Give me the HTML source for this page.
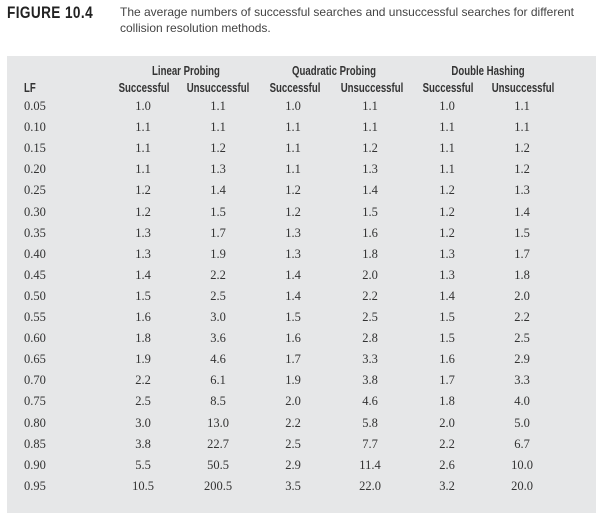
<!DOCTYPE html>
<html><head><meta charset="utf-8">
<style>
body{margin:0;width:602px;height:519px;background:#fff;position:relative;overflow:hidden;font-family:"Liberation Serif",serif;}
.a{position:absolute;white-space:nowrap;}
.fig{left:7px;top:3px;font:bold 17px "Liberation Sans",sans-serif;color:#222;letter-spacing:0.5px;transform:scaleX(0.8);transform-origin:0 0}
.cap{left:120px;font:12px "Liberation Sans",sans-serif;color:#444;}
#box{position:absolute;left:7px;top:56px;width:589px;height:457px;background:#e6e7e8;}
.h{font:bold 13px "Liberation Sans",sans-serif;color:#333;transform:translateX(-50%) scaleX(0.74);}
.lfh{font:bold 13px "Liberation Sans",sans-serif;color:#333;transform:scaleX(0.74);transform-origin:0 0}
.v{font:12.5px "Liberation Serif",serif;color:#333;transform:translateX(-50%);}
.lf{font:12.5px "Liberation Serif",serif;color:#333;}
</style></head><body>
<div class="a fig">FIGURE 10.4</div>
<div class="a cap" style="top:5px">The average numbers of successful searches and unsuccessful searches for different</div>
<div class="a cap" style="top:21px">collision resolution methods.</div>
<div id="box"></div>
<div class="a h" style="left:186px;top:63px">Linear Probing</div>
<div class="a h" style="left:334px;top:63px">Quadratic Probing</div>
<div class="a h" style="left:488px;top:63px">Double Hashing</div>
<div class="a lfh" style="left:24px;top:80px">LF</div>
<script>
const lf=["0.05","0.10","0.15","0.20","0.25","0.30","0.35","0.40","0.45","0.50","0.55","0.60","0.65","0.70","0.75","0.80","0.85","0.90","0.95"];
const linS=["1.0","1.1","1.1","1.1","1.2","1.2","1.3","1.3","1.4","1.5","1.6","1.8","1.9","2.2","2.5","3.0","3.8","5.5","10.5"];
const linU=["1.1","1.1","1.2","1.3","1.4","1.5","1.7","1.9","2.2","2.5","3.0","3.6","4.6","6.1","8.5","13.0","22.7","50.5","200.5"];
const quaS=["1.0","1.1","1.1","1.1","1.2","1.2","1.3","1.3","1.4","1.4","1.5","1.6","1.7","1.9","2.0","2.2","2.5","2.9","3.5"];
const quaU=["1.1","1.1","1.2","1.3","1.4","1.5","1.6","1.8","2.0","2.2","2.5","2.8","3.3","3.8","4.6","5.8","7.7","11.4","22.0"];
const dblS=["1.0","1.1","1.1","1.1","1.2","1.2","1.2","1.3","1.3","1.4","1.5","1.5","1.6","1.7","1.8","2.0","2.2","2.6","3.2"];
const dblU=["1.1","1.1","1.2","1.2","1.3","1.4","1.5","1.7","1.8","2.0","2.2","2.5","2.9","3.3","4.0","5.0","6.7","10.0","20.0"];
const subs=["Successful","Unsuccessful","Successful","Unsuccessful","Successful","Unsuccessful"];
const cols=[linS,linU,quaS,quaU,dblS,dblU];
const colNames=["linear-successful","linear-unsuccessful","quadratic-successful","quadratic-unsuccessful","double-successful","double-unsuccessful"];
const cx=[143,218,293,370,447,522];
const hx=[144,218,295,372,448,523];
function rowY(i){return 99+i*21.1;}
subs.forEach((s,j)=>{
  const d=document.createElement('div');
  d.className='a h';d.style.left=hx[j]+'px';d.style.top='80px';d.textContent=s;
  
  
  document.body.appendChild(d);
});
lf.forEach((v,i)=>{
  const d=document.createElement('div');
  d.className='a lf';d.style.left='24px';d.style.top=rowY(i)+'px';d.textContent=v;
  
  
  document.body.appendChild(d);
  cols.forEach((c,j)=>{
    const e=document.createElement('div');
    e.className='a v';e.style.left=cx[j]+'px';e.style.top=rowY(i)+'px';e.textContent=c[i];
    
    
    document.body.appendChild(e);
  });
});
</script>
</body></html>
